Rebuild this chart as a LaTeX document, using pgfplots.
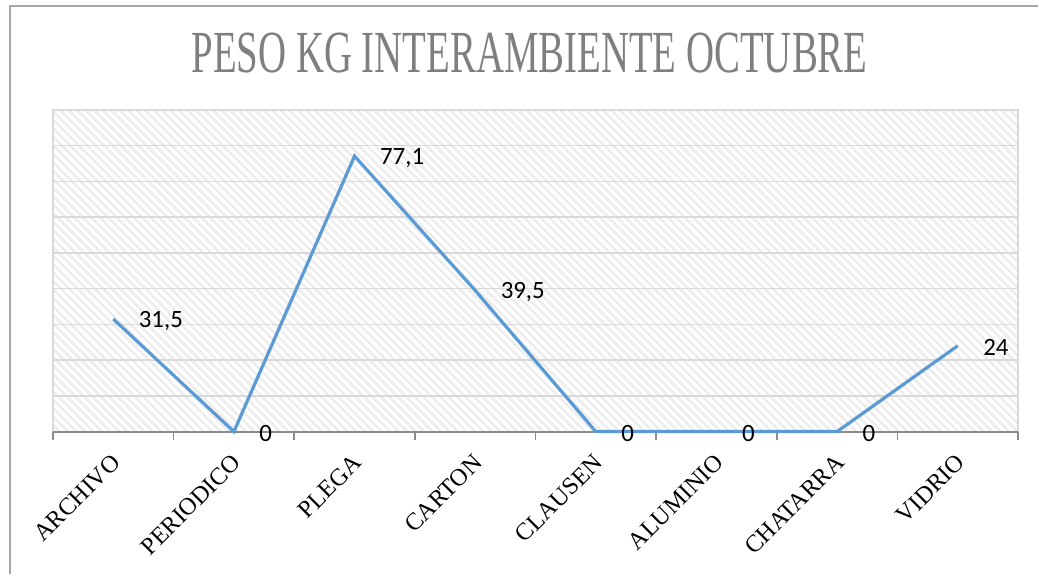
\documentclass[border=0pt]{standalone}
\usepackage{fontspec}
\setmainfont{Liberation Serif}
\newfontfamily\calibri{Carlito}
\newfontfamily\titlefont[FakeStretch=0.65]{Liberation Serif}
\usepackage{pgfplots}
\pgfplotsset{compat=1.18}
\usetikzlibrary{patterns.meta}

\definecolor{lineblue}{HTML}{5B9BD5}
\definecolor{gridgray}{HTML}{D9D9D9}
\definecolor{axisgray}{HTML}{8C8C8C}
\definecolor{titlegray}{HTML}{7F7F7F}
\definecolor{hatch}{HTML}{EDEDED}
\definecolor{framegray}{HTML}{A6A6A6}

\begin{document}
\begin{tikzpicture}[x=1bp,y=1bp]
% page frame (chart is cropped on the right and bottom)
\path (0,0) rectangle (519.5,287.5);
\draw[framegray, line width=1bp] (5,0) -- (5,284.5) -- (519.5,284.5);
\node[font=\titlefont\fontsize{30}{36}\selectfont, text=titlegray, anchor=base, inner sep=0pt]
  at (265,251) {PESO KG INTERAMBIENTE OCTUBRE};

\begin{axis}[
    at={(26.5bp,71.5bp)}, anchor=south west,
    width=483bp, height=161bp, scale only axis,
    xmin=-0.5, xmax=7.5, ymin=0, ymax=90,
    clip=false,
    axis background/.style={pattern={Lines[angle=-45,distance=3bp,line width=1.3bp]}, pattern color=hatch},
    axis line style={gridgray, line width=0.75bp},
    ymajorgrids, grid style={gridgray, line width=0.75bp},
    ytick={0,10,...,90}, yticklabels={}, ytick style={draw=none},
    xtick={-0.5,0.5,...,7.5}, xticklabels={}, xtick pos=left,
    tick align=outside, major tick length=4bp,
    xtick style={axisgray, line width=0.75bp},
    extra x ticks={0,1,...,7},
    extra x tick labels={ARCHIVO,PERIODICO,PLEGA,CARTON,CLAUSEN,ALUMINIO,CHATARRA,VIDRIO},
    extra x tick style={major tick length=0pt,
        xticklabel style={xshift=1.5bp, yshift=-13.5bp, rotate=45, anchor=east, inner sep=0pt,
            font=\fontsize{12.2}{14}\selectfont}},
    /pgf/number format/use comma,
    /pgf/number format/assume math mode=true,
    nodes near coords,
    every node near coord/.append style={font=\calibri\fontsize{12.5}{15}\selectfont,
        anchor=west, inner sep=0pt, xshift=12bp, yshift=-1bp, text=black},
]
\draw[axisgray, line width=1bp] (rel axis cs:0,0) -- (rel axis cs:1,0);
\addplot[color=lineblue, line width=1.6bp, mark=none] coordinates {
    (0,31.5)(1,0)(2,77.1)(3,39.5)(4,0)(5,0)(6,0)(7,24)
};
\end{axis}
\end{tikzpicture}
\end{document}
